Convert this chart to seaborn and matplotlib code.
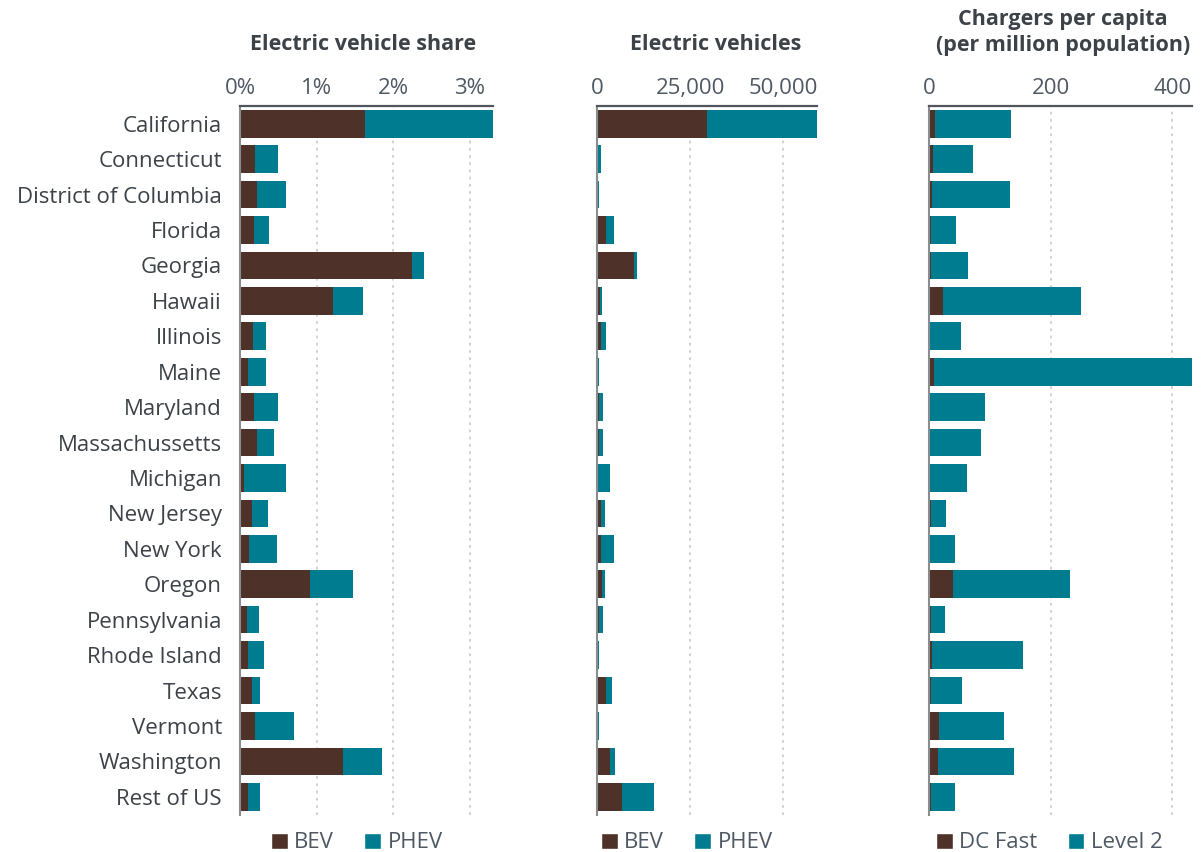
import numpy as np
import pandas as pd
import matplotlib
matplotlib.use("Agg")
import matplotlib.pyplot as plt
from matplotlib.patches import Patch
import seaborn as sns

sns.set_theme(style="white")
plt.rcParams["font.family"] = ["Open Sans", "DejaVu Sans"]

states = ["California", "Connecticut", "District of Columbia", "Florida", "Georgia",
          "Hawaii", "Illinois", "Maine", "Maryland", "Massachussetts", "Michigan",
          "New Jersey", "New York", "Oregon", "Pennsylvania", "Rhode Island",
          "Texas", "Vermont", "Washington", "Rest of US"]

# electric vehicle share (%)
share_bev = [1.63, 0.20, 0.22, 0.18, 2.24, 1.22, 0.17, 0.10, 0.18, 0.22,
             0.05, 0.16, 0.12, 0.92, 0.09, 0.10, 0.16, 0.20, 1.34, 0.10]
share_phev = [1.68, 0.30, 0.38, 0.20, 0.16, 0.38, 0.17, 0.24, 0.31, 0.22,
              0.55, 0.20, 0.36, 0.55, 0.16, 0.21, 0.10, 0.50, 0.52, 0.16]

# electric vehicles (count)
ev_bev = [29400, 300, 150, 2300, 9850, 700, 1000, 100, 450, 450,
          200, 1000, 1000, 1250, 450, 100, 2300, 100, 3400, 6600]
ev_phev = [30000, 700, 350, 2150, 800, 550, 1350, 400, 1050, 1050,
           3200, 1050, 3450, 800, 1050, 400, 1650, 400, 1350, 8600]

# chargers per million population
ch_dcfast = [9, 6, 4.5, 3, 3, 22.5, 1, 8, 0.5, 0.5,
             0.5, 3, 0.5, 39, 3, 4.5, 3, 16, 14.5, 3]
ch_level2 = [126, 66, 128.5, 41, 61, 227.5, 51, 424, 91, 85,
             62, 24.5, 42, 193, 23, 149.5, 51, 107, 125, 39.5]

BROWN = "#4e3229"
TEAL = "#007c91"
LABEL_C = "#3c4247"
TICK_C = "#4f5963"
FS = 16

W, H = 1202, 852
fig = plt.figure(figsize=(W / 100, H / 100), dpi=100)


def px_axes(left, right, top=106, bottom=814.5):
    return fig.add_axes([left / W, 1 - bottom / H, (right - left) / W, (bottom - top) / H])


panels = [
    dict(left=240, right=493.5, a=share_bev, b=share_phev, xlim=3.31,
         ticks=[0, 1, 2, 3], ticklabels=["0%", "1%", "2%", "3%"],
         title=["Electric vehicle share"], tx=363, names=["BEV", "PHEV"], lx=271),
    dict(left=597.3, right=817, a=ev_bev, b=ev_phev, xlim=59000,
         ticks=[0, 25000, 50000], ticklabels=["0", "25,000", "50,000"],
         title=["Electric vehicles"], tx=716, names=["BEV", "PHEV"], lx=601),
    dict(left=929.3, right=1192, a=ch_dcfast, b=ch_level2, xlim=432.6,
         ticks=[0, 200, 400], ticklabels=["0", "200", "400"],
         title=["Chargers per capita", "(per million population)"], tx=1063,
         names=["DC Fast", "Level 2"], lx=936),
]

for i, p in enumerate(panels):
    ax = px_axes(p["left"], p["right"])
    df = pd.DataFrame({"state": states, "a": p["a"], "b": p["b"]})
    df["total"] = df["a"] + df["b"]
    sns.barplot(data=df, x="total", y="state", color=TEAL, saturation=1,
                width=0.78, orient="h", linewidth=0, ax=ax)
    sns.barplot(data=df, x="a", y="state", color=BROWN, saturation=1,
                width=0.78, orient="h", linewidth=0, ax=ax)
    ax.set_xlim(0, p["xlim"])
    ax.set_ylim(19.5, -0.5)
    ax.set_xlabel("")
    ax.set_ylabel("")
    ax.xaxis.tick_top()
    ax.set_xticks(p["ticks"])
    ax.set_xticklabels(p["ticklabels"])
    ax.tick_params(axis="x", length=0, pad=5, labelsize=FS, labelcolor=TICK_C)
    if i == 0:
        ax.tick_params(axis="y", length=0, pad=13, labelsize=FS, labelcolor=LABEL_C)
    else:
        ax.set_yticklabels([])
        ax.tick_params(axis="y", length=0)
    ax.grid(axis="x", color="#cfcfcf", linestyle=(0, (1.5, 2.5)), linewidth=1.3)
    ax.set_axisbelow(True)
    for s in ["bottom", "right"]:
        ax.spines[s].set_visible(False)
    ax.spines["top"].set_color("#50565c")
    ax.spines["top"].set_linewidth(1.6)
    ax.spines["left"].set_color("#8a8d90")
    ax.spines["left"].set_linewidth(1.5)

    if len(p["title"]) == 1:
        fig.text(p["tx"] / W, 1 - 45 / H, p["title"][0], ha="center", va="center",
                 fontsize=15.5, fontweight="bold", color=LABEL_C)
    else:
        fig.text(p["tx"] / W, 1 - 19 / H, p["title"][0], ha="center", va="center",
                 fontsize=15.5, fontweight="bold", color=LABEL_C)
        fig.text(p["tx"] / W, 1 - 45 / H, p["title"][1], ha="center", va="center",
                 fontsize=15.5, fontweight="bold", color=LABEL_C)

    handles = [Patch(facecolor=BROWN), Patch(facecolor=TEAL)]
    fig.legend(handles, p["names"], loc="center left",
               bbox_to_anchor=(p["lx"] / W, 1 - 843 / H), ncol=2, frameon=False,
               fontsize=FS, handlelength=0.75, handleheight=0.75,
               handletextpad=0.3, columnspacing=1.35, borderpad=0,
               borderaxespad=0, labelcolor=TICK_C)

fig.savefig("out.png", dpi=100)
